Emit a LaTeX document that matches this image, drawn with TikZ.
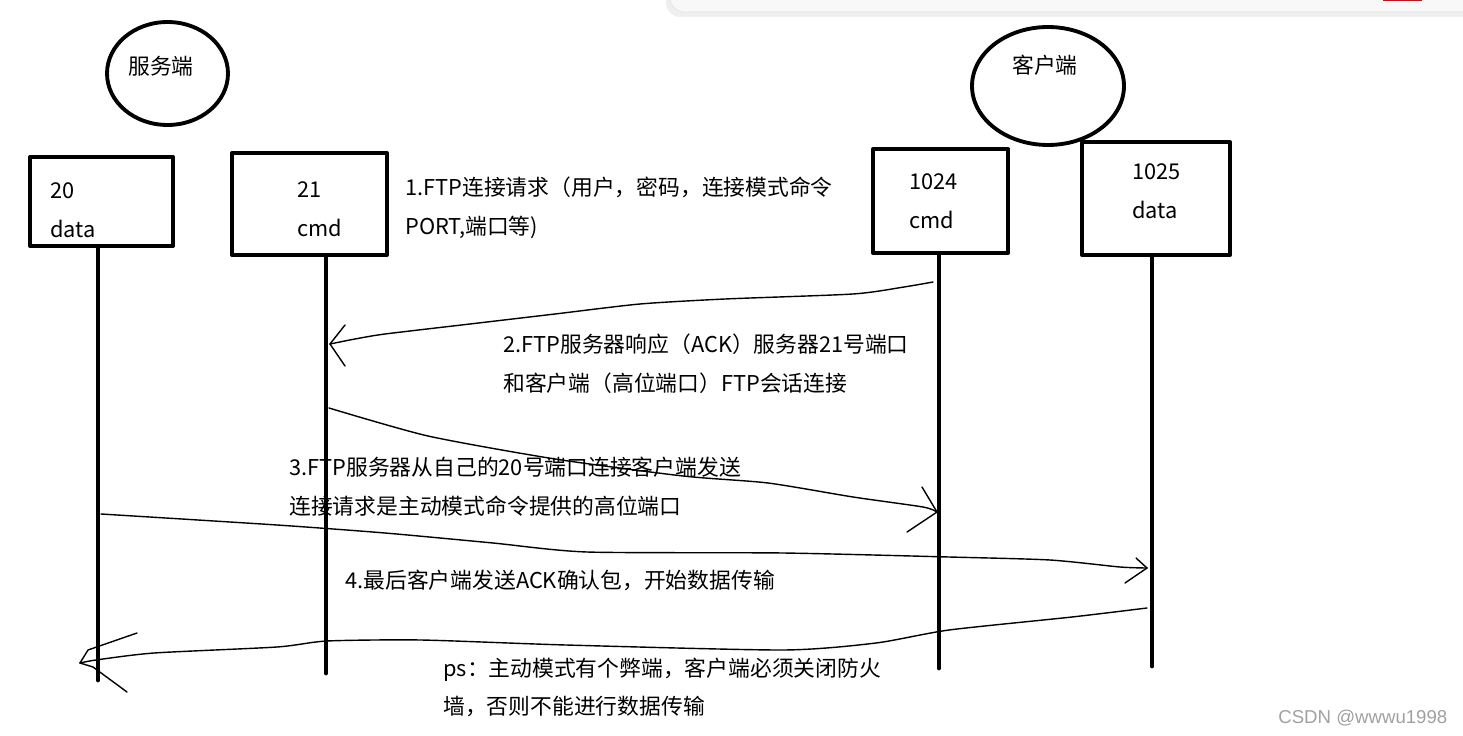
\documentclass[tikz,border=0pt]{standalone}
\usepackage{fontspec}
\setmainfont{Noto Sans CJK SC}
\newfontfamily\wmfont{Liberation Sans}
\usetikzlibrary{shapes.geometric}

\begin{document}
\begin{tikzpicture}[x=0.02cm,y=-0.02cm,line cap=round,line join=round]
  % ----- styles & colors -----
    \definecolor{panelfill}{RGB}{248,248,248}
    \definecolor{panelline}{RGB}{228,228,228}
    \definecolor{markred}{RGB}{190,20,30}
    \definecolor{wmgray}{RGB}{160,160,160}
  \tikzset{
    port/.style={draw=black,line width=2.3pt,inner sep=0pt},
    side/.style={draw=black,ellipse,line width=2.2pt,inner sep=0pt},
    life/.style={draw=black,line width=2.8pt},
    msg/.style={draw=black,line width=0.8pt},
    txt/.style={anchor=west,align=left,inner sep=0pt,font=\fontsize{12.4}{22}\selectfont}
  }

  \useasboundingbox (0,0) rectangle (1463,736);

  % ----- browser panel (top right) -----
  \fill[panelline!60, rounded corners=8pt] (666,-20) rectangle (1475,17);
  \filldraw[fill=panelfill, draw=panelline, rounded corners=8pt] (670,-20) rectangle (1475,12);
  \fill[markred] (1383,0) rectangle (1422,1.5);

  % ----- the two sides -----
  \node[side, minimum width=2.42cm, minimum height=2.06cm] (srv) at (167.5,73.5) {};
  \node[side, minimum width=3.04cm, minimum height=2.36cm] (cli) at (1048,86) {};
  \node[txt] (srvname) at (128,66) {服务端};
  \node[txt] (cliname) at (1012,65) {客户端};

  % ----- the four ports -----
  \node[port, minimum width=2.86cm, minimum height=1.78cm] (p20) at (101.5,201.5) {};
  \node[port, minimum width=3.10cm, minimum height=2.04cm] (p21) at (309.5,204) {};
  \node[port, minimum width=2.70cm, minimum height=2.08cm] (p1024) at (940.5,201) {};
  \node[port, minimum width=2.96cm, minimum height=2.26cm] (p1025) at (1156,198.5) {};
  \node[txt] (p20txt) at (50,210) {20\\data};
  \node[txt] (p21txt) at (297,209) {21\\cmd};
  \node[txt] (p1024txt) at (909,201) {1024\\cmd};
  \node[txt] (p1025txt) at (1132,191) {1025\\data};

  % ----- lifelines -----
  \coordinate (e20) at (98,680);
  \coordinate (e21) at (326,673);
  \coordinate (e1024) at (939,668);
  \coordinate (e1025) at (1152,666);
  \foreach \p/\e in {p20/e20,p21/e21,p1024/e1024,p1025/e1025}{
    \draw[life] (\p.south -| \e) -- (\e);
  }

  % ----- messages -----
  \coordinate (m2s) at (933,282);
  \coordinate (m2t) at (330,344);
  \draw[msg] plot[smooth, tension=0.4] coordinates {(m2s) (904,287) (853,294) (725,299) (640,304) (555,314) (470,324) (385,334) (355,339) (m2t)};
  \draw[msg] (m2t) -- ++(15,-19);
  \draw[msg] (m2t) -- ++(15,22);

  \coordinate (m3s) at (329,408);
  \coordinate (m3t) at (937,512);
  \draw[msg] plot[smooth, tension=0.4] coordinates {(m3s) (428,436) (555,459) (683,476) (768,483) (853,497) (923,507) (m3t)};
  \draw[msg] (m3t) -- ++(-15,-25);
  \draw[msg] (m3t) -- ++(-30,20);

  \coordinate (m4s) at (101,514);
  \coordinate (m4t) at (1147,568);
  \draw[msg] plot[smooth, tension=0.4] coordinates {(m4s) (277,525) (385,533) (493,543) (587,552) (783,553) (949,557) (1050,560) (1120,567) (m4t)};
  \draw[msg] (m4t) -- ++(-11,-10);
  \draw[msg] (m4t) -- ++(-22,15);

  \coordinate (m5s) at (1147,608);
  \coordinate (m5t) at (80,663);
  \draw[msg] plot[smooth, tension=0.4] coordinates {(m5s) (1072,617) (949,630) (876,643) (783,650) (566,645) (421,640) (327,641) (277,647) (154,653) (96,660) (m5t)};
  \draw[msg] (m5t) -- (88,650) -- (137,633);
  \draw[msg] (m5t) -- (93,667) -- (127,692);

  % ----- notes -----
  \node[txt] (n1) at (405,208) {1.FTP连接请求（用户，密码，连接模式命令\\PORT,端口等)};
  \node[txt] (n2) at (503,364) {2.FTP服务器响应（ACK）服务器21号端口\\和客户端（高位端口）FTP会话连接};
  \node[txt] (n3) at (289,486.5) {3.FTP服务器从自己的20号端口连接客户端发送\\连接请求是主动模式命令提供的高位端口};
  \node[txt] (n4) at (345,580) {4.最后客户端发送ACK确认包，开始数据传输};
  \node[txt] (n5) at (443,687.5) {ps：主动模式有个弊端，客户端必须关闭防火\\墙，否则不能进行数据传输};

  \node[anchor=west, inner sep=0pt, text=wmgray, font=\wmfont\fontsize{10.6}{12}\selectfont] (wm) at (1278,718) {CSDN @wwwu1998};

\end{tikzpicture}
\end{document}
